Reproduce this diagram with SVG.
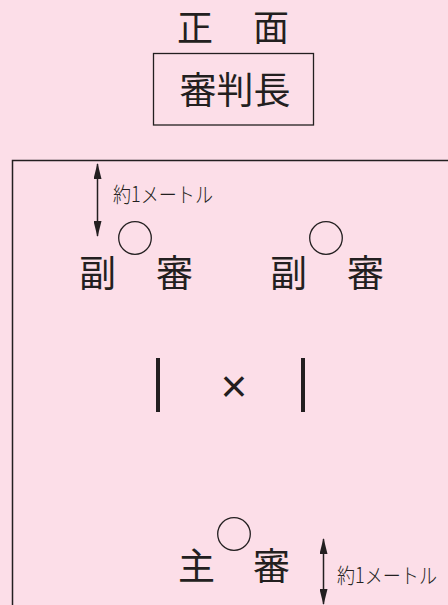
<svg xmlns="http://www.w3.org/2000/svg" width="448" height="605" viewBox="0 0 448 605">
<defs>
<marker id="ah" viewBox="0 0 16 8" refX="15" refY="4" markerWidth="16" markerHeight="8" markerUnits="userSpaceOnUse" orient="auto-start-reverse">
<path d="M0,0 L16,4 L0,8 Z" fill="#231f20"/>
</marker>
<style>
.t{font-family:"Noto Sans CJK JP","Noto Sans CJK SC",sans-serif;fill:#231f20;font-weight:400}
.big{font-size:37px}
.lbl{font-size:21px;font-weight:300}
.ln{stroke:#231f20;fill:none}
.c{stroke:#231f20;stroke-width:1.3;fill:none}
.bar{fill:#231f20}
</style>
</defs>
<rect width="448" height="605" fill="#fcdee8"/>
<g id="front">
<text class="t" font-size="36" x="177" y="41">正</text>
<text class="t" font-size="36" x="253" y="41">面</text>
</g>
<g id="chief">
<rect x="153.5" y="53.5" width="160" height="71.5" class="ln" stroke-width="1.3"/>
<text class="t" font-size="37" x="235" y="104" text-anchor="middle" textLength="111" lengthAdjust="spacingAndGlyphs">審判長</text>
</g>
<g id="court">
<path d="M448,160.5 H12.5 V605" class="ln" stroke-width="1.5"/>
</g>
<g id="connectors">
<line x1="97.5" y1="164" x2="97.5" y2="236" class="ln" stroke-width="1.5" marker-start="url(#ah)" marker-end="url(#ah)"/>
<line x1="323.5" y1="539" x2="323.5" y2="604" class="ln" stroke-width="1.5" marker-start="url(#ah)" marker-end="url(#ah)"/>
</g>
<g id="label-top">
<text class="t lbl" x="113" y="202" textLength="100" lengthAdjust="spacingAndGlyphs">約1メートル</text>
</g>
<g id="sub1">
<circle cx="135" cy="238" r="16.3" class="c"/>
<text class="t big" x="79" y="287">副</text>
<text class="t big" x="156" y="287">審</text>
</g>
<g id="sub2">
<circle cx="326" cy="238" r="16.3" class="c"/>
<text class="t big" x="270" y="287">副</text>
<text class="t big" x="347" y="287">審</text>
</g>
<g id="center">
<rect x="156" y="358" width="4" height="54" class="bar"/>
<rect x="301" y="358" width="4" height="54" class="bar"/>
<text x="234" y="402" font-family="Liberation Sans,sans-serif" font-size="46" fill="#231f20" text-anchor="middle">×</text>
</g>
<g id="main">
<circle cx="234" cy="534" r="16.3" class="c"/>
<text class="t big" x="178" y="580">主</text>
<text class="t big" x="253" y="580">審</text>
</g>
<g id="label-bottom">
<text class="t lbl" x="337" y="583" textLength="100" lengthAdjust="spacingAndGlyphs">約1メートル</text>
</g>
</svg>
